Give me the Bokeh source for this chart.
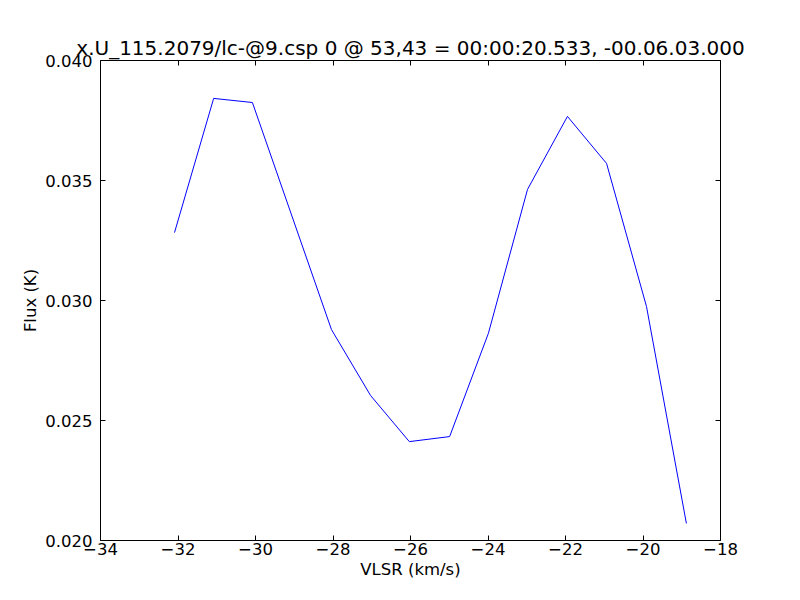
from bokeh.plotting import figure
from bokeh.models import FixedTicker, LinearAxis, Range1d
from bokeh.embed import file_html
from bokeh.resources import INLINE

vlsr = [-32.09, -31.08, -30.08, -28.04, -27.03, -26.03, -24.99, -23.99, -22.98, -21.95, -20.94, -19.91, -18.88]
flux = [0.03283, 0.03842, 0.03825, 0.02879, 0.02604, 0.02412, 0.02433, 0.02863, 0.03463, 0.03767, 0.03571, 0.02975, 0.02071]

x_ticks = [-34, -32, -30, -28, -26, -24, -22, -20, -18]
y_ticks = [0.020, 0.025, 0.030, 0.035, 0.040]
x_tick_labels = {t: "\u2212" + str(abs(t)) for t in x_ticks}
y_tick_labels = {t: f"{t:.3f}" for t in y_ticks}

title_text = "x.U_115.2079/lc-@9.csp 0 @ 53,43 = 00:00:20.533, -00.06.03.000"
FONT = "DejaVu Sans"

p = figure(width=784, height=584, output_backend="svg", toolbar_location=None,
           x_range=Range1d(-34, -18), y_range=Range1d(0.020, 0.040),
           min_border_left=100, min_border_right=64, min_border_top=60, min_border_bottom=44,
           title=title_text)
p.title.text_font = FONT
p.title.text_font_size = "20px"
p.title.text_font_style = "normal"
p.title.text_color = "black"
p.title.align = "center"
p.title.standoff = 2

p.grid.visible = False
p.outline_line_color = "black"
p.outline_line_width = 1
p.background_fill_color = "white"
p.border_fill_color = "white"

p.line(vlsr, flux, line_color="#0000ff", line_width=1)

def style(ax):
    ax.major_tick_in = 5
    ax.major_tick_out = 0
    ax.minor_tick_in = 0
    ax.minor_tick_out = 0
    ax.axis_line_color = None
    ax.major_tick_line_color = "black"
    ax.major_label_text_font = FONT
    ax.major_label_text_font_size = "16.5px"
    ax.major_label_text_color = "black"
    ax.axis_label_text_font = FONT
    ax.axis_label_text_font_size = "16.5px"
    ax.axis_label_text_font_style = "normal"
    ax.axis_label_text_color = "black"

xa = p.xaxis[0]
xa.ticker = FixedTicker(ticks=x_ticks)
xa.major_label_overrides = x_tick_labels
xa.axis_label = "VLSR (km/s)"
xa.major_label_standoff = 2
xa.axis_label_standoff = 2
style(xa)

ya = p.yaxis[0]
ya.ticker = FixedTicker(ticks=y_ticks)
ya.major_label_overrides = y_tick_labels
ya.axis_label = "Flux (K)"
ya.major_label_standoff = 8
ya.axis_label_standoff = 2
style(ya)

top = LinearAxis(ticker=FixedTicker(ticks=x_ticks))
style(top)
top.major_label_overrides = {t: "" for t in x_ticks}
top.major_label_standoff = 0
p.add_layout(top, "above")

right = LinearAxis(ticker=FixedTicker(ticks=y_ticks))
style(right)
right.major_label_overrides = {t: "" for t in y_ticks}
right.major_label_standoff = 0
p.add_layout(right, "right")

open("out.html", "w").write(file_html(p, INLINE))
